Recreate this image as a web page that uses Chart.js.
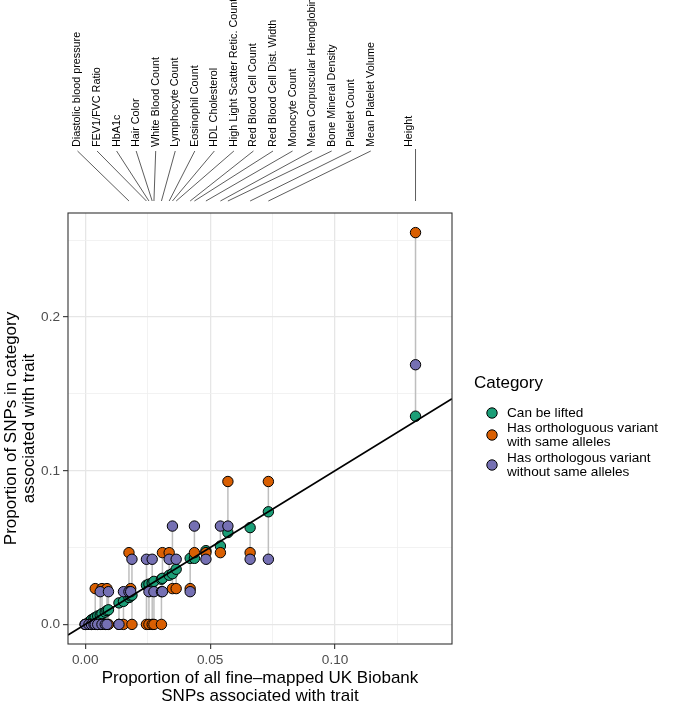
<!DOCTYPE html>
<html>
<head>
<meta charset="utf-8">
<script src="https://cdn.jsdelivr.net/npm/chart.js@4.4.1/dist/chart.umd.min.js"></script>
<style>
  html, body { margin: 0; padding: 0; background: #fff; }
  #c { display: block; width: 673px; height: 702px; }
</style>
</head>
<body>
<canvas id="c" width="673" height="702"></canvas>
<script>
// ----------------- DADOS -----------------
const traitNames = [
    "", "", "", "", "", "", "", "", "", "", "", "", "",
    "Diastolic blood pressure", "", "",
    "FEV1/FVC Ratio", "HbA1c", "Hair Color", "White Blood Count",
    "Lymphocyte Count", "", "Eosinophil Count", "HDL Cholesterol",
    "High Light Scatter Retic. Count", "Red Blood Cell Count",
    "Red Blood Cell Dist. Width", "Monocyte Count",
    "Mean Corpuscular Hemoglobin", "Bone Mineral Density",
    "Platelet Count", "Mean Platelet Volume", "Height"
];
// proporção de todos os SNPs fine-mapped (eixo x)
const traitX = [
    0.0000, 0.0015, 0.0025, 0.0035, 0.0040, 0.0050, 0.0060, 0.0067, 0.0080, 0.0087, 0.0093, 0.0135, 0.0153,
    0.0175, 0.0182, 0.0187,
    0.0245, 0.0255, 0.0268, 0.0275,
    0.0305, 0.0309, 0.0336, 0.0349,
    0.0364, 0.0420,
    0.0437, 0.0483,
    0.0541, 0.0571,
    0.0660, 0.0733, 0.1322
];
const liftedY = [
    0.0000, 0.0015, 0.0030, 0.0040, 0.0045, 0.0055, 0.0060, 0.0070, 0.0080, 0.0090, 0.0095, 0.0140, 0.0150,
    0.0175, 0.0185, 0.0190,
    0.0255, 0.0262, 0.0270, 0.0280,
    0.0294, 0.0300, 0.0320, 0.0330,
    0.0359, 0.0430,
    0.0430, 0.0480,
    0.0510, 0.0598,
    0.0630, 0.0733, 0.1355
];
const sameAlleleY = [
    0.0000, 0.0000, 0.0000, 0.0000, 0.0233, 0.0000, 0.0000, 0.0233, 0.0000, 0.0233, 0.0000, 0.0000, 0.0000,
    0.0467, 0.0233, 0.0000,
    0.0000, 0.0000, 0.0000, 0.0000,
    0.0000, 0.0467, 0.0467, 0.0233,
    0.0233, 0.0233,
    0.0467, 0.0467,
    0.0467, 0.0930,
    0.0467, 0.0930, 0.2550
];
const otherAlleleY = [
    0.0000, 0.0000, 0.0000, 0.0000, 0.0000, 0.0000, 0.0213, 0.0000, 0.0000, 0.0000, 0.0213, 0.0000, 0.0213,
    0.0213, 0.0213, 0.0424,
    0.0424, 0.0213, 0.0424, 0.0213,
    0.0213, 0.0213, 0.0424, 0.0640,
    0.0424, 0.0213,
    0.0640, 0.0424,
    0.0640, 0.0640,
    0.0424, 0.0424, 0.1690
];
const refSlope = 1;
const xTickLabels = [0, 0.05, 0.10];
const yTickLabels = [0, 0.1, 0.2];
const categoryLabels = [
    ["Can be lifted"],
    ["Has orthologuous variant", "with same alleles"],
    ["Has orthologous variant", "without same alleles"]
];
const categoryColors = ["#1B9E77", "#D95F02", "#7570B3"];

const X_MIN = -0.0069, X_MAX = 0.1468;
const Y_MIN = -0.01275, Y_MAX = 0.26775;
const FONT = "'Liberation Sans', Arial, Helvetica, sans-serif";

// ----------------- PONTOS -----------------
const pts = ys => traitX.map((x, i) => ({ x: x, y: ys[i] }));

const segmentos = [];
traitX.forEach((x, i) => {
    const vals = [liftedY[i], sameAlleleY[i], otherAlleleY[i]];
    segmentos.push({ x: x, y: Math.min(...vals) });
    segmentos.push({ x: x, y: Math.max(...vals) });
    segmentos.push({ x: x, y: null });
});

const isMajor = (v, step) => Math.abs(v / step - Math.round(v / step)) < 1e-6;
const hasLabel = (list, v) => list.some(t => Math.abs(t - v) < 1e-6);

const pontoDataset = (ys, cor, ordem) => ({
    type: "scatter",
    data: pts(ys),
    backgroundColor: cor,
    borderColor: "#000",
    borderWidth: 1,
    pointRadius: 5.2,
    pointHoverRadius: 5.2,
    order: ordem
});

// ----------------- DECORAÇÃO (rótulos, títulos, legenda) -----------------
const decor = {
    id: "decor",
    afterDraw(chart) {
        const { ctx, chartArea: a, scales: { x } } = chart;
        ctx.save();

        // borda do painel
        ctx.strokeStyle = "#333333";
        ctx.lineWidth = 1.1;
        ctx.strokeRect(a.left, a.top, a.right - a.left, a.bottom - a.top);

        // rótulos das características no topo
        const nomes = [];
        traitNames.forEach((n, i) => { if (n) nomes.push({ n, x: traitX[i] }); });
        ctx.font = "10.8px " + FONT;
        ctx.fillStyle = "#000";
        ctx.textAlign = "left";
        ctx.textBaseline = "middle";
        nomes.forEach((t, k) => {
            const tx = x.getPixelForValue(t.x);
            const ultimo = k === nomes.length - 1;
            const slot = ultimo ? tx : a.left + 9.5 + k * 19.55;
            const textX = ultimo ? tx - 7 : slot;
            ctx.save();
            ctx.translate(textX, 147);
            ctx.rotate(-Math.PI / 2);
            ctx.fillText(t.n, 0, 0);
            ctx.restore();
            ctx.beginPath();
            ctx.strokeStyle = "#333";
            ctx.lineWidth = 0.8;
            ctx.moveTo(slot, ultimo ? 149 : 151);
            ctx.lineTo(tx, 201);
            ctx.stroke();
        });

        // títulos dos eixos
        ctx.fillStyle = "#000";
        ctx.font = "17px " + FONT;
        ctx.textAlign = "center";
        ctx.textBaseline = "alphabetic";
        const cx = (a.left + a.right) / 2;
        ctx.fillText("Proportion of all fine\u2013mapped UK Biobank", cx, 683);
        ctx.fillText("SNPs associated with trait", cx, 701);

        ctx.save();
        ctx.translate(15.5, (a.top + a.bottom) / 2);
        ctx.rotate(-Math.PI / 2);
        ctx.fillText("Proportion of SNPs in category", 0, 0);
        ctx.fillText("associated with trait", 0, 18.5);
        ctx.restore();

        // legenda
        ctx.textAlign = "left";
        ctx.font = "17px " + FONT;
        ctx.fillText("Category", 474, 388);
        const legY = [413, 435, 465];
        ctx.font = "13.6px " + FONT;
        ctx.textBaseline = "middle";
        categoryLabels.forEach((linhas, i) => {
            ctx.beginPath();
            ctx.arc(492, legY[i], 5.2, 0, Math.PI * 2);
            ctx.fillStyle = categoryColors[i];
            ctx.fill();
            ctx.strokeStyle = "#000";
            ctx.lineWidth = 1;
            ctx.stroke();
            ctx.fillStyle = "#000";
            const h = 14.5;
            const y0 = legY[i] - (linhas.length - 1) * h / 2;
            linhas.forEach((l, j) => ctx.fillText(l, 507, y0 + j * h));
        });

        ctx.restore();
    }
};

const gridOpts = (step) => ({
    color: c => (c.tick && isMajor(c.tick.value, step)) ? "#E6E6E6" : "#EFEFEF",
    lineWidth: c => (c.tick && isMajor(c.tick.value, step)) ? 1.3 : 0.8,
    tickColor: c => (c.tick && isMajor(c.tick.value, step)) ? "#333333" : "rgba(0,0,0,0)",
    tickLength: 5,
    tickWidth: 1.1
});

const chart = new Chart(document.getElementById("c").getContext("2d"), {
    type: "scatter",
    data: {
        datasets: [
            {
                type: "line",
                data: [{ x: X_MIN, y: X_MIN * refSlope }, { x: X_MAX, y: X_MAX * refSlope }],
                borderColor: "#000",
                borderWidth: 1.7,
                pointRadius: 0,
                order: 0
            },
            pontoDataset(otherAlleleY, categoryColors[2], 1),
            pontoDataset(sameAlleleY, categoryColors[1], 2),
            pontoDataset(liftedY, categoryColors[0], 3),
            {
                type: "line",
                data: segmentos,
                borderColor: "#BEBEBE",
                borderWidth: 1.5,
                pointRadius: 0,
                spanGaps: false,
                order: 4
            }
        ]
    },
    options: {
        responsive: false,
        animation: false,
        events: [],
        layout: { padding: { top: 213, right: 221, left: 0, bottom: 0 } },
        plugins: { legend: { display: false }, tooltip: { enabled: false } },
        scales: {
            x: {
                type: "linear",
                min: X_MIN,
                max: X_MAX,
                afterFit: s => { s.height = 58; },
                border: { display: false },
                grid: gridOpts(0.05),
                ticks: {
                    stepSize: 0.025,
                    includeBounds: false,
                    autoSkip: false,
                    maxRotation: 0,
                    padding: 3,
                    color: "#4D4D4D",
                    font: { size: 13.6, family: FONT },
                    callback: v => hasLabel(xTickLabels, v) ? v.toFixed(2) : ""
                }
            },
            y: {
                type: "linear",
                min: Y_MIN,
                max: Y_MAX,
                afterFit: s => { s.width = 68; },
                border: { display: false },
                grid: gridOpts(0.1),
                ticks: {
                    stepSize: 0.05,
                    includeBounds: false,
                    autoSkip: false,
                    padding: 3,
                    color: "#4D4D4D",
                    font: { size: 13.6, family: FONT },
                    callback: v => hasLabel(yTickLabels, v) ? v.toFixed(1) : ""
                }
            }
        }
    },
    plugins: [decor]
});
</script>
</body>
</html>
